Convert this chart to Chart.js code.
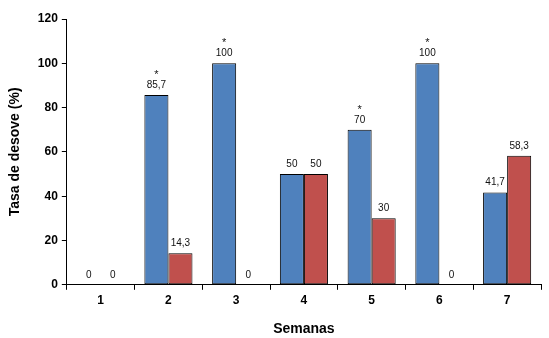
<!DOCTYPE html>
<html>
<head>
<meta charset="utf-8">
<script src="https://cdn.jsdelivr.net/npm/chart.js@4.4.0/dist/chart.umd.min.js"></script>
<style>
  html, body { margin: 0; padding: 0; background: #fff; }
  #wrap { width: 549px; height: 338px; }
</style>
</head>
<body>
<div id="wrap"><canvas id="desoveChart" width="549" height="338"></canvas></div>

<script>
// datos
const semanas = ['1', '2', '3', '4', '5', '6', '7'];
const serieAzul = [0, 85.7, 100, 50, 70, 100, 41.7];
const serieRoja = [0, 14.3, 0, 50, 30, 0, 58.3];
const asteriscos = ['', '*', '*', '', '*', '*', ''];
const yTicks = [0, 20, 40, 60, 80, 100, 120];

function fmt(v) {
  return String(v).replace('.', ',');
}

// etiquetas encima de las barras
const etiquetas = {
  id: 'etiquetas',
  afterDatasetsDraw(chart) {
    const ctx = chart.ctx;
    ctx.save();
    ctx.fillStyle = '#111';
    ctx.textAlign = 'center';
    ctx.textBaseline = 'alphabetic';
    chart.data.datasets.forEach((ds, di) => {
      const meta = chart.getDatasetMeta(di);
      meta.data.forEach((bar, i) => {
        ctx.font = '10px "Liberation Sans", Arial, sans-serif';
        ctx.fillText(fmt(ds.data[i]), bar.x, bar.y - 7);
        if (di === 0 && asteriscos[i]) {
          ctx.font = '11px "Liberation Sans", Arial, sans-serif';
          ctx.fillText(asteriscos[i], bar.x, bar.y - 17);
        }
      });
    });
    ctx.restore();
  }
};

var ctx = document.getElementById('desoveChart').getContext('2d');
var desoveChart = new Chart(ctx, {
  type: 'bar',
  data: {
    labels: semanas,
    datasets: [
      {
        label: 'A',
        data: serieAzul,
        backgroundColor: '#4F81BD',
        borderColor: '#000',
        borderWidth: 1,
        borderSkipped: false,
        barPercentage: 1,
        categoryPercentage: 0.71
      },
      {
        label: 'B',
        data: serieRoja,
        backgroundColor: '#C0504D',
        borderColor: '#000',
        borderWidth: 1,
        borderSkipped: false,
        barPercentage: 1,
        categoryPercentage: 0.71
      }
    ]
  },
  options: {
    responsive: false,
    animation: false,
    layout: { padding: { top: 19, right: 8, left: 7, bottom: 0 } },
    plugins: {
      legend: { display: false },
      tooltip: { enabled: false }
    },
    scales: {
      x: {
        grid: { display: true, drawOnChartArea: false, color: '#000', tickLength: 5, offset: true },
        border: { color: '#000', width: 1 },
        ticks: {
          color: '#000',
          font: { family: '"Liberation Sans", Arial, sans-serif', size: 12, weight: 'bold' },
          padding: 4
        },
        title: {
          display: true,
          text: 'Semanas',
          color: '#000',
          font: { family: '"Liberation Sans", Arial, sans-serif', size: 14, weight: 'bold' },
          padding: { top: 9, bottom: 0 }
        }
      },
      y: {
        min: 0,
        max: 120,
        afterBuildTicks: (axis) => { axis.ticks = yTicks.map(v => ({ value: v })); },
        grid: { display: true, drawOnChartArea: false, color: '#000', tickLength: 5 },
        border: { color: '#000', width: 1 },
        ticks: {
          color: '#000',
          font: { family: '"Liberation Sans", Arial, sans-serif', size: 12, weight: 'bold' },
          padding: 4
        },
        title: {
          display: true,
          text: 'Tasa de desove (%)',
          color: '#000',
          font: { family: '"Liberation Sans", Arial, sans-serif', size: 14, weight: 'bold' },
          padding: { top: 0, bottom: 10 }
        }
      }
    }
  },
  plugins: [etiquetas]
});
</script>
</body>
</html>
